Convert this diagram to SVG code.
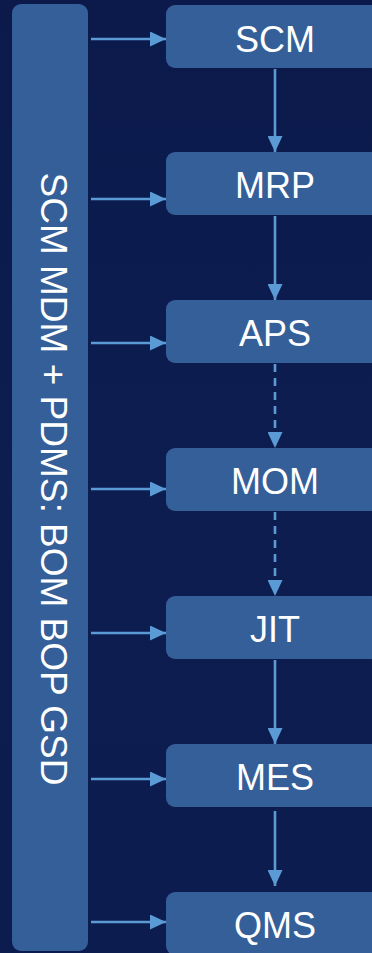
<svg xmlns="http://www.w3.org/2000/svg" width="372" height="953" viewBox="0 0 372 953">
  <style>
    .node { fill: #355f98; }
    .label { font-family: "Liberation Sans", Arial, sans-serif; font-size: 36px; fill: #ffffff; text-anchor: middle; }
    .side { font-family: "Liberation Sans", Arial, sans-serif; font-size: 37px; fill: #ffffff; text-anchor: middle; }
    .conn { stroke: #5b9bd5; stroke-width: 2.6; fill: none; }
    .dash { stroke-dasharray: 8 6; }
  </style>
  <defs>
    <linearGradient id="bg" x1="0" y1="0" x2="0" y2="1">
      <stop offset="0" stop-color="#0b1a4b"/>
      <stop offset="0.5" stop-color="#0d1d50"/>
      <stop offset="1" stop-color="#0c1c4f"/>
    </linearGradient>
    <marker id="arrow" markerUnits="userSpaceOnUse" markerWidth="16" markerHeight="15" refX="16" refY="7.5" orient="auto">
      <path d="M0,0 L16,7.5 L0,15 z" fill="#5b9bd5"/>
    </marker>
  </defs>
  <rect x="0" y="0" width="372" height="953" fill="url(#bg)"/>

  <g id="side-bar">
    <rect class="node" x="12" y="4" width="76" height="947" rx="9" fill="#3862a0"/>
    <text class="side" transform="translate(41,479) rotate(90)" x="0" y="0">SCM MDM + PDMS: BOM BOP GSD</text>
  </g>

  <g id="node-scm"><rect class="node" x="166" y="5" width="218" height="63" rx="9"/><text class="label" x="275" y="52">SCM</text></g>
  <g id="node-mrp"><rect class="node" x="166" y="152" width="218" height="63" rx="9"/><text class="label" x="275" y="198">MRP</text></g>
  <g id="node-aps"><rect class="node" x="166" y="300" width="218" height="63" rx="9"/><text class="label" x="275" y="346">APS</text></g>
  <g id="node-mom"><rect class="node" x="166" y="448" width="218" height="63" rx="9"/><text class="label" x="275" y="494">MOM</text></g>
  <g id="node-jit"><rect class="node" x="166" y="596" width="218" height="63" rx="9"/><text class="label" x="275" y="642">JIT</text></g>
  <g id="node-mes"><rect class="node" x="166" y="744" width="218" height="63" rx="9"/><text class="label" x="275" y="790">MES</text></g>
  <g id="node-qms"><rect class="node" x="166" y="892" width="218" height="63" rx="9"/><text class="label" x="275" y="938">QMS</text></g>

  <g id="connectors">
    <line class="conn" x1="91" y1="39" x2="166" y2="39" marker-end="url(#arrow)"/>
    <line class="conn" x1="91" y1="199" x2="166" y2="199" marker-end="url(#arrow)"/>
    <line class="conn" x1="91" y1="343" x2="166" y2="343" marker-end="url(#arrow)"/>
    <line class="conn" x1="91" y1="489" x2="166" y2="489" marker-end="url(#arrow)"/>
    <line class="conn" x1="91" y1="633" x2="166" y2="633" marker-end="url(#arrow)"/>
    <line class="conn" x1="91" y1="779" x2="166" y2="779" marker-end="url(#arrow)"/>
    <line class="conn" x1="91" y1="922" x2="166" y2="922" marker-end="url(#arrow)"/>

    <line class="conn" x1="275" y1="69" x2="275" y2="152" marker-end="url(#arrow)"/>
    <line class="conn" x1="275" y1="216" x2="275" y2="300" marker-end="url(#arrow)"/>
    <line class="conn dash" x1="275" y1="364" x2="275" y2="448" marker-end="url(#arrow)"/>
    <line class="conn dash" x1="275" y1="512" x2="275" y2="596" marker-end="url(#arrow)"/>
    <line class="conn" x1="275" y1="660" x2="275" y2="744" marker-end="url(#arrow)"/>
    <line class="conn" x1="275" y1="811" x2="275" y2="886" marker-end="url(#arrow)"/>
  </g>
</svg>
